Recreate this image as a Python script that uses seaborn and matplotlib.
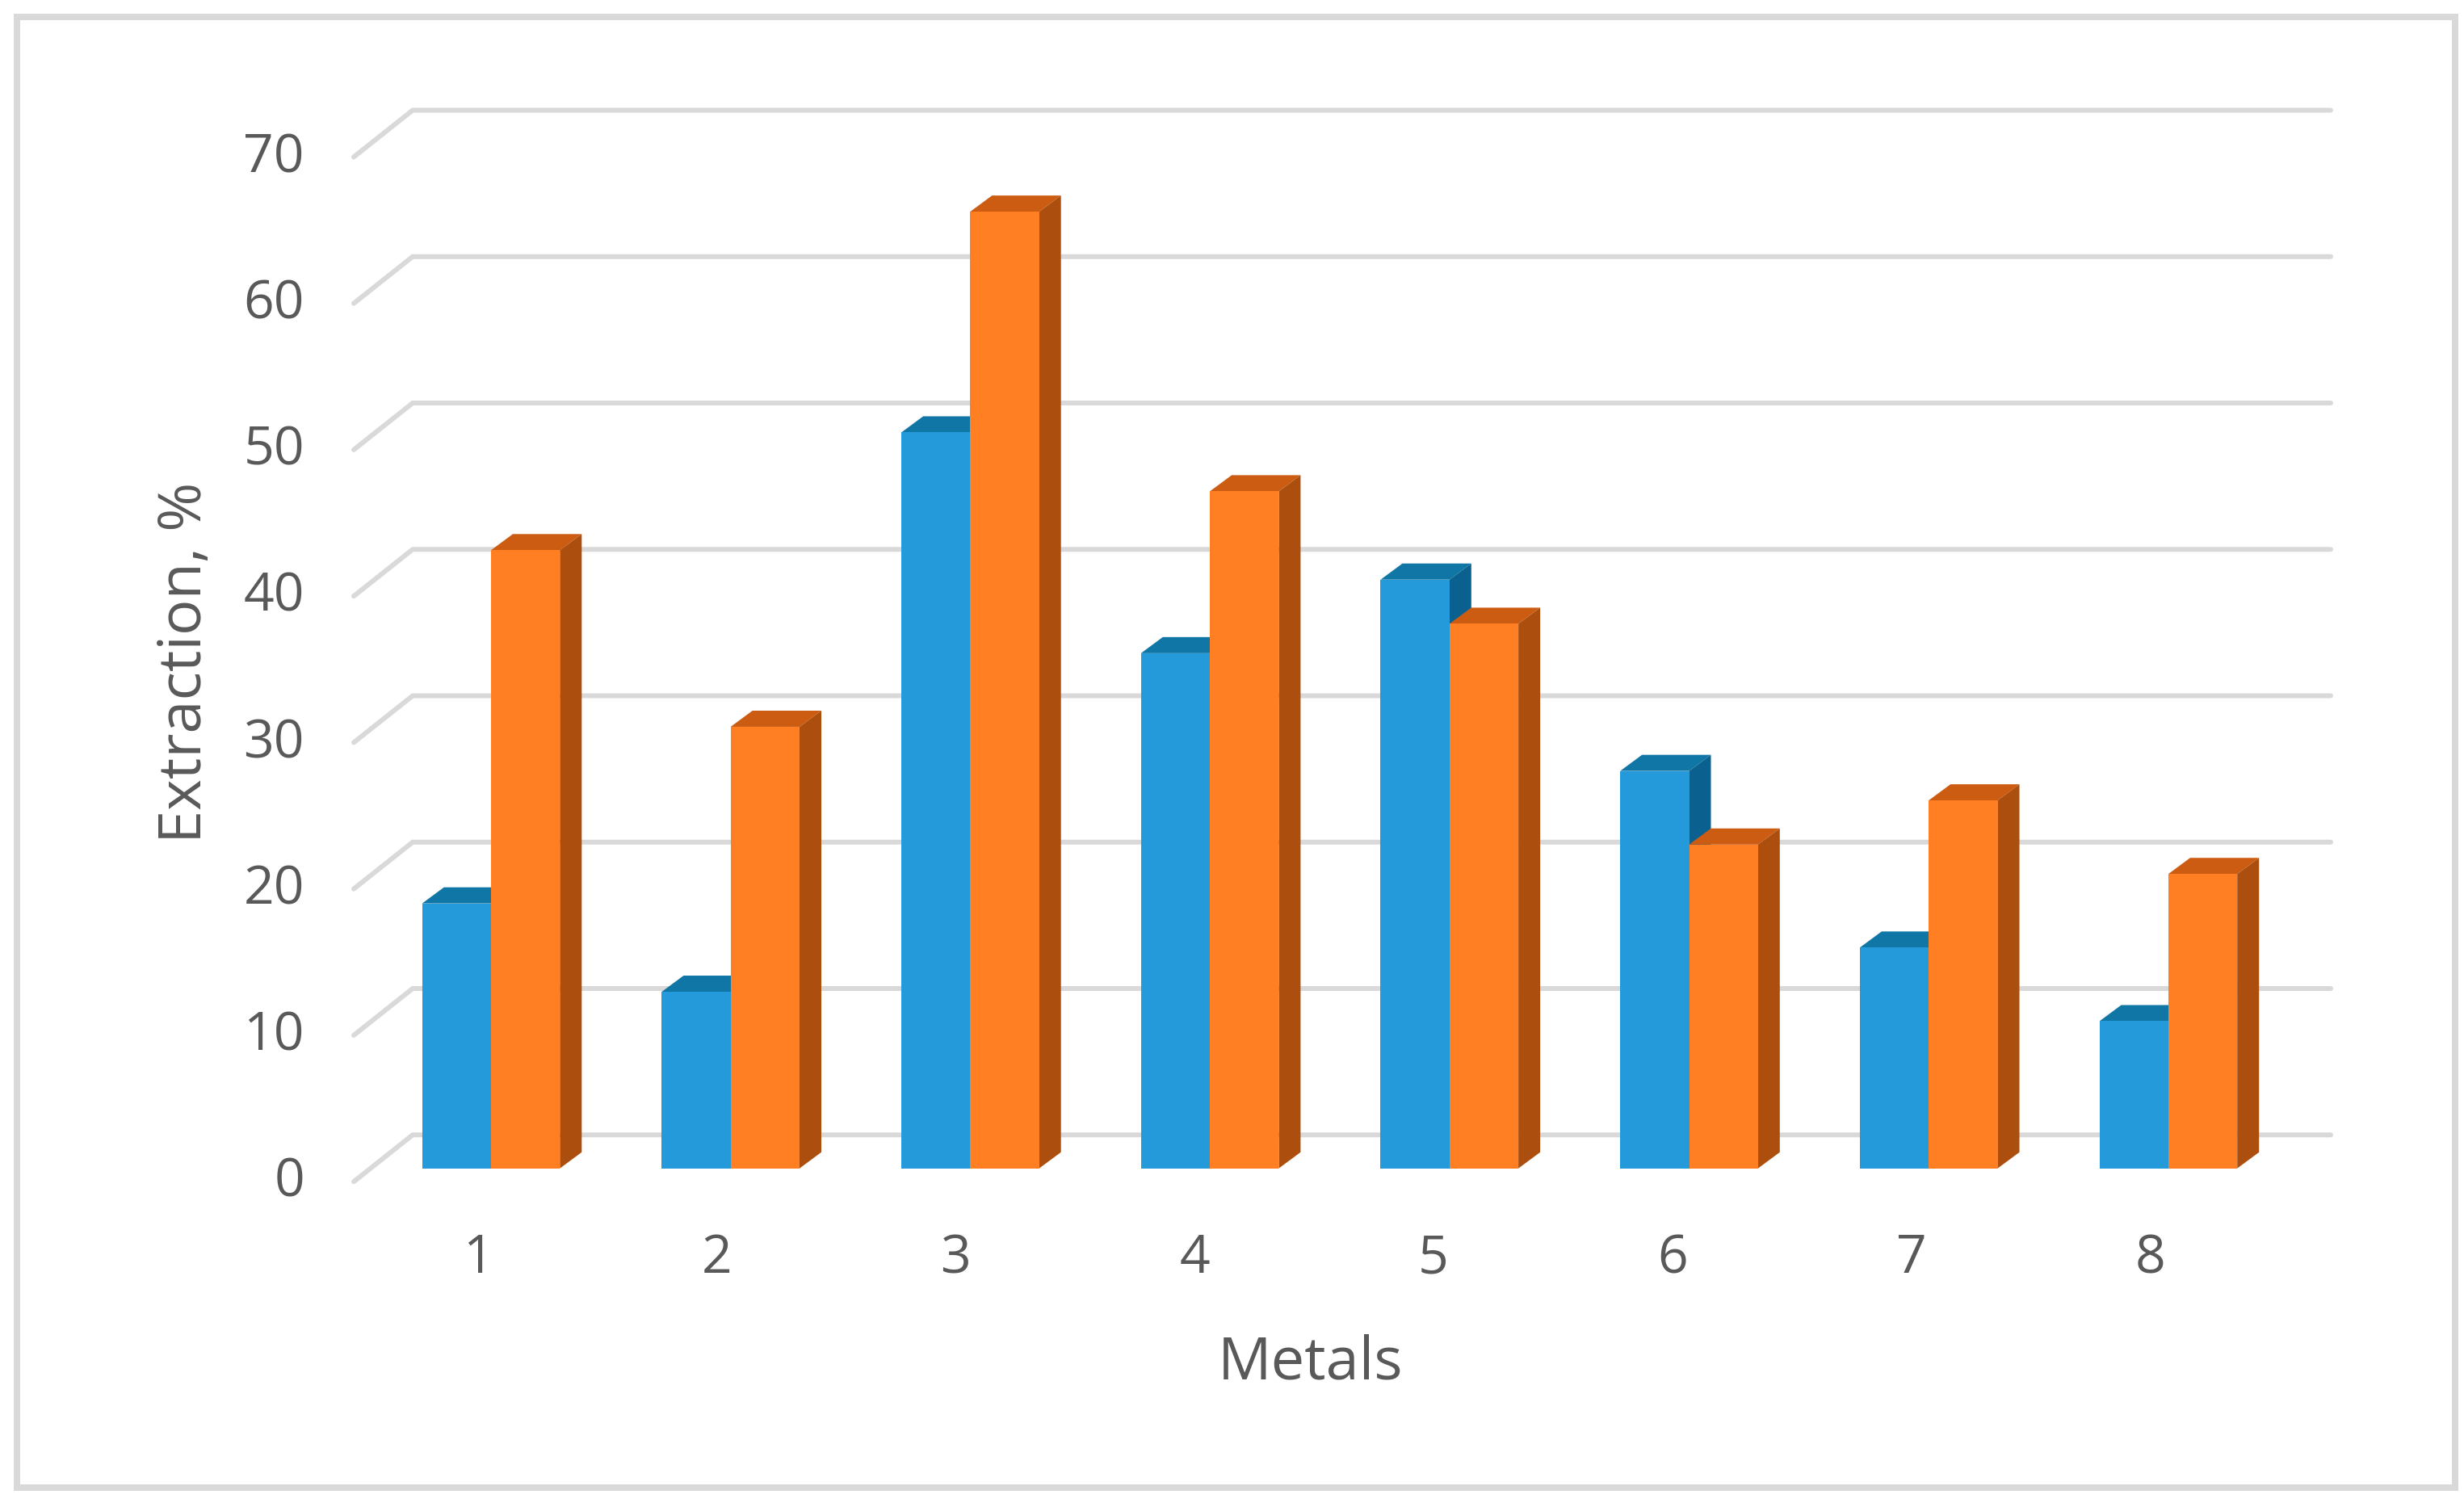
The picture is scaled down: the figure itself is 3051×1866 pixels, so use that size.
#!/usr/bin/env python3
import numpy as np
import pandas as pd
import matplotlib.pyplot as plt
from matplotlib.patches import Polygon, Rectangle
import seaborn as sns

metals = ["1", "2", "3", "4", "5", "6", "7", "8"]
series_a = [18, 12, 50, 35, 40, 27, 15, 10]
series_b = [42, 30, 65, 46, 37, 22, 25, 20]
y_ticks = [0, 10, 20, 30, 40, 50, 60, 70]

W, H = 3051, 1866
FRONT = ["#259ADA", "#FF7F22"]
TOP = ["#0F76A6", "#CC5C12"]
SIDE = ["#0A618F", "#AC4F0E"]
GREY = "#595959"
GRID = "#D9D9D9"
PT = 0.72  # points per pixel at dpi 100
GROUP_PX, UNIT_PX = 296.7, 18.25
GRID_PITCH = 18.15 / UNIT_PX  # back wall is a bit further away than the bars

sns.set_theme(style="white")
plt.rcParams["font.family"] = ["Open Sans", "DejaVu Sans"]

fig = plt.figure(figsize=(W / 100, H / 100), dpi=100, facecolor="white")

# axes box in pixels
left, right, top, bottom = 438, 2886, 135, 1465
ax = fig.add_axes([left / W, 1 - bottom / H, (right - left) / W, (bottom - top) / H])

df = pd.DataFrame({
    "metal": metals * 2,
    "value": series_a + series_b,
    "series": ["a"] * len(metals) + ["b"] * len(metals),
})
sns.barplot(data=df, x="metal", y="value", hue="series", palette=FRONT, width=0.575,
            gap=0, legend=False, linewidth=0, saturation=1, ax=ax)

ax.set_xlim((left - 608) / GROUP_PX, (right - 608) / GROUP_PX)
ax.set_ylim((1448.5 - bottom) / UNIT_PX, (1448.5 - top) / UNIT_PX)
ax.set_facecolor("none")
sns.despine(ax=ax, left=True, bottom=True)

# fake 3d depth on every bar
dx, dy = 27 / GROUP_PX, 20 / UNIT_PX
for i, cont in enumerate(ax.containers):
    for bar in cont:
        x0, x1, h = bar.get_x(), bar.get_x() + bar.get_width(), bar.get_height()
        bar.set_zorder(3 + 2 * i)
        ax.add_patch(Polygon([(x0, h), (x1, h), (x1 + dx, h + dy), (x0 + dx, h + dy)],
                             facecolor=TOP[i], linewidth=0, zorder=2 + 2 * i))
        ax.add_patch(Polygon([(x1, 0), (x1 + dx, dy), (x1 + dx, h + dy), (x1, h)],
                             facecolor=SIDE[i], linewidth=0, zorder=2 + 2 * i))

# gridlines on the back wall with the diagonal on the floor/side wall
x_front, x_back = ax.get_xlim()[0], ax.get_xlim()[0] + 73 / GROUP_PX
y_front, y_back = ax.get_ylim()[0], ax.get_ylim()[0] + 58 / UNIT_PX
for v in y_ticks:
    yv = v * GRID_PITCH
    ax.plot([x_front, x_back, ax.get_xlim()[1]], [yv + y_front, yv + y_back, yv + y_back],
            color=GRID, lw=6 * PT, zorder=1, clip_on=False, solid_joinstyle="miter")

ax.set_yticks([v * GRID_PITCH + y_front - 0.1 for v in y_ticks])
ax.set_yticklabels([str(v) for v in y_ticks])
ax.set_xticks(np.arange(len(metals)) * 0.997 - 0.055)
ax.set_xticklabels(metals)
ax.tick_params(axis="y", length=0, pad=44, labelsize=66 * PT, labelcolor=GREY)
ax.tick_params(axis="x", length=0, pad=44, labelsize=66 * PT, labelcolor=GREY)
for lab in ax.get_yticklabels():
    lab.set_verticalalignment("center")

ax.set_xlabel("")
ax.set_ylabel("")
fig.text(1623 / W, 1 - 1689 / H, "Metals", ha="center", va="center",
         fontsize=74 * PT, color=GREY)
fig.text(230 / W, 1 - 820 / H, "Extraction, %", ha="center", va="center",
         rotation=90, fontsize=74 * PT, color=GREY)

# chart area border
fig.add_artist(Rectangle((21 / W, 1 - 1842 / H), (3040 - 21) / W, (1842 - 21) / H,
                         transform=fig.transFigure, fill=False, edgecolor=GRID, lw=8 * PT))

fig.savefig("out.png", dpi=100, facecolor="white")
